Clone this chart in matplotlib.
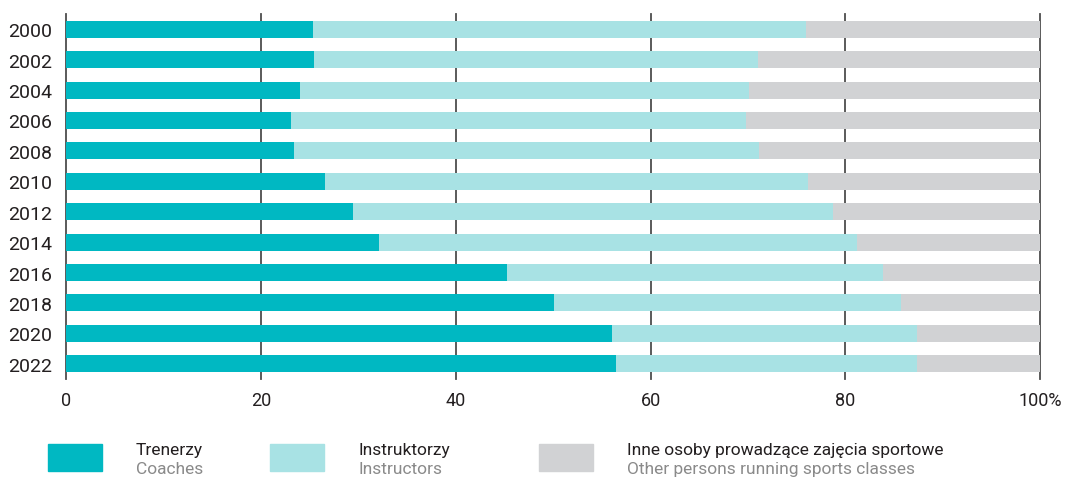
import matplotlib

matplotlib.use("Agg")
import matplotlib.pyplot as plt
from matplotlib.patches import Rectangle

plt.rcParams["font.family"] = ["Roboto", "DejaVu Sans"]

years = ["2000", "2002", "2004", "2006", "2008", "2010",
         "2012", "2014", "2016", "2018", "2020", "2022"]
coaches = [25.3, 25.4, 24.0, 23.1, 23.4, 26.6, 29.4, 32.1, 45.3, 50.1, 56.0, 56.5]
instr_end = [76.0, 71.0, 70.1, 69.8, 71.1, 76.2, 78.7, 81.2, 83.9, 85.7, 87.4, 87.4]
instructors = [e - c for e, c in zip(instr_end, coaches)]
others = [100 - e for e in instr_end]

xticks = [0, 20, 40, 60, 80, 100]
xlabels = ["0", "20", "40", "60", "80", "100%"]

C_COACH = "#00b8c2"
C_INSTR = "#a8e2e4"
C_OTHER = "#d1d2d4"
TXT = "#231f20"

fig = plt.figure(figsize=(10.65, 4.81), dpi=100)
ax = fig.add_axes([0.0623, 0.21, 0.9142, 0.7588])

y = list(range(len(years)))
h = 0.56
ax.barh(y, coaches, height=h, color=C_COACH, zorder=2)
ax.barh(y, instructors, left=coaches, height=h, color=C_INSTR, zorder=2)
ax.barh(y, others, left=instr_end, height=h, color=C_OTHER, zorder=2)

ax.set_xlim(0, 100)
ax.set_ylim(len(years) - 0.5, -0.5)
ax.set_yticks(y)
ax.set_yticklabels(years, fontsize=14, color=TXT)
ax.set_xticks(xticks)
ax.set_xticklabels(xlabels, fontsize=13, color=TXT)
ax.tick_params(length=0, pad=10)
ax.tick_params(axis="x", pad=9)
for s in ax.spines.values():
    s.set_visible(False)
for xv in xticks:
    ax.axvline(xv, color="#4d4d4d", lw=1.3, zorder=1, clip_on=False)

# legend
items = [
    (48, C_COACH, "Trenerzy", "Coaches"),
    (270, C_INSTR, "Instruktorzy", "Instructors"),
    (539, C_OTHER, "Inne osoby prowadzące zajęcia sportowe",
     "Other persons running sports classes"),
]
W, H = 1065, 481
for x0, col, pl, en in items:
    fig.add_artist(Rectangle((x0 / W, 1 - 472 / H), 54 / W, 27 / H,
                             transform=fig.transFigure, color=col))
    fig.text((x0 + 88) / W, 1 - 451 / H, pl, fontsize=12.5, color=TXT,
             va="center", ha="left")
    fig.text((x0 + 88) / W, 1 - 470 / H, en, fontsize=12.5, color="#8a8a8a",
             va="center", ha="left")

fig.savefig("out.png", dpi=100)
